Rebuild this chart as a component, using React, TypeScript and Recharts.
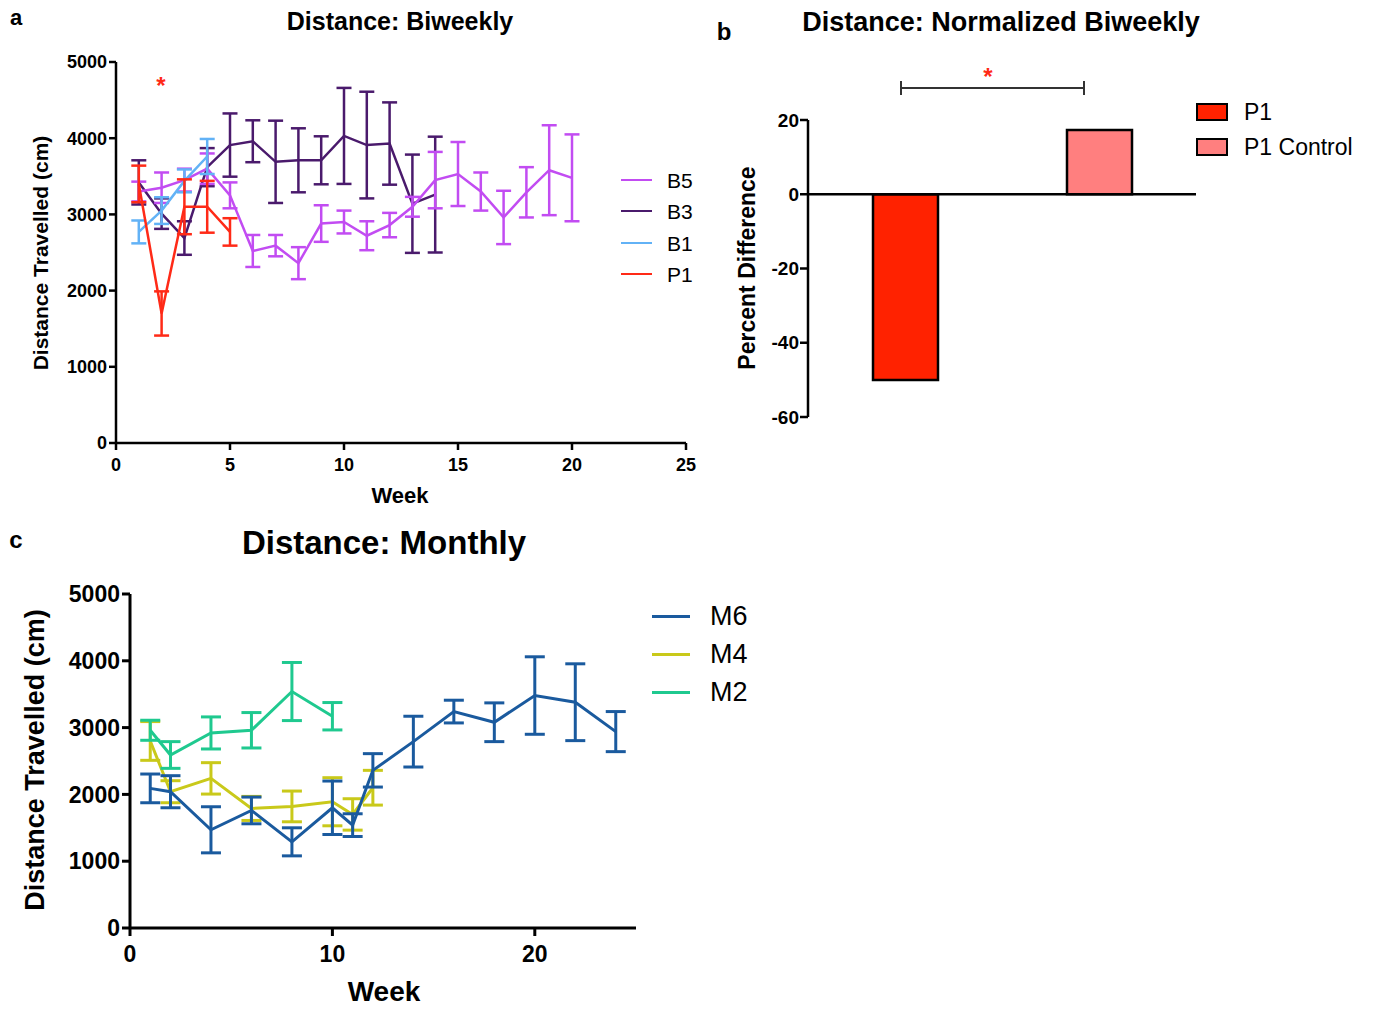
import React from "react";
import {
  LineChart,
  Line,
  XAxis,
  YAxis,
  ErrorBar,
  BarChart,
  Bar,
  Cell,
  ReferenceLine,
} from "recharts";

// panel a: biweekly distance (mean ± error)
const b5Weeks = [1, 2, 3, 4, 5, 6, 7, 8, 9, 10, 11, 12, 13, 14, 15, 16, 17, 18, 19, 20];
const b5Mean = [3300, 3350, 3450, 3600, 3250, 2520, 2590, 2360, 2880, 2900, 2720, 2860, 3100, 3450, 3530, 3300, 2960, 3290, 3580, 3480];
const b5Err = [130, 200, 150, 200, 170, 210, 140, 210, 240, 150, 190, 160, 130, 370, 420, 250, 350, 330, 590, 570];

const b3Weeks = [1, 2, 3, 4, 5, 6, 7, 8, 9, 10, 11, 12, 13, 14];
const b3Mean = [3420, 3010, 2690, 3620, 3910, 3960, 3690, 3710, 3710, 4030, 3910, 3930, 3140, 3260];
const b3Err = [290, 200, 220, 250, 415, 275, 540, 420, 315, 630, 700, 540, 645, 760];

const b1Weeks = [1, 2, 3, 4];
const b1Mean = [2770, 3050, 3440, 3760];
const b1Err = [150, 175, 150, 230];

const p1Weeks = [1, 2, 3, 4, 5];
const p1Mean = [3400, 1700, 3100, 3100, 2770];
const p1Err = [240, 290, 360, 340, 180];

// panel b: normalized difference
const normCats = ["P1", "P1 Control"];
const normVals = [-50, 17.3];
const normColors = ["#ff2200", "#ff7f7f"];

// panel c: monthly distance
const m6Weeks = [1, 2, 4, 6, 8, 10, 11, 12, 14, 16, 18, 20, 22, 24];
const m6Mean = [2090, 2040, 1470, 1760, 1290, 1800, 1540, 2360, 2790, 3240, 3080, 3480, 3380, 2940];
const m6Err = [215, 240, 345, 200, 210, 400, 170, 250, 380, 170, 290, 580, 575, 300];

const m4Weeks = [1, 2, 4, 6, 8, 10, 11, 12];
const m4Mean = [2800, 2040, 2240, 1790, 1820, 1890, 1700, 2100];
const m4Err = [290, 165, 235, 180, 230, 360, 235, 260];

const m2Weeks = [1, 2, 4, 6, 8, 10];
const m2Mean = [2960, 2590, 2920, 2960, 3540, 3170];
const m2Err = [150, 200, 240, 265, 435, 205];

const yTicks = [0, 1000, 2000, 3000, 4000, 5000];
const xTicksA = [0, 5, 10, 15, 20, 25];
const xTicksC = [0, 10, 20];
const normTicks = [-60, -40, -20, 0, 20];

const C = {
  b5: "#c24cf2",
  b3: "#4a1a6c",
  b1: "#62b2f6",
  p1: "#ff2a17",
  m6: "#1a5a9e",
  m4: "#c9c91a",
  m2: "#1fc98f",
};

const rows = (weeks: number[], mean: number[], err: number[]) =>
  weeks.map((w, i) => ({ week: w, v: mean[i], e: err[i] }));

const FONT = "'Liberation Sans', Arial, Helvetica, sans-serif";

function Txt({
  x,
  y,
  size,
  bold = true,
  rotate = 0,
  color = "#000",
  anchor = "center",
  children,
}: {
  x: number;
  y: number;
  size: number;
  bold?: boolean;
  rotate?: number;
  color?: string;
  anchor?: "center" | "left";
  children: React.ReactNode;
}) {
  const tx = anchor === "center" ? "-50%" : "0";
  return (
    <div
      style={{
        position: "absolute",
        left: x,
        top: y,
        fontSize: size,
        fontWeight: bold ? 700 : 400,
        color,
        whiteSpace: "nowrap",
        lineHeight: 1,
        transform: `translate(${tx}, -50%) rotate(${rotate}deg)`,
      }}
    >
      {children}
    </div>
  );
}

function LegendLine({ x, y, w, color, thick, label, size, gap }: any) {
  return (
    <>
      <div
        style={{
          position: "absolute",
          left: x,
          top: y - thick / 2,
          width: w,
          height: thick,
          background: color,
        }}
      />
      <Txt x={x + w + gap} y={y} size={size} bold={false} anchor="left">
        {label}
      </Txt>
    </>
  );
}

const axisStyle = { stroke: "#000", strokeWidth: 2.5 };

function PanelA() {
  const series = [
    { key: "b3", d: rows(b3Weeks, b3Mean, b3Err) },
    { key: "b5", d: rows(b5Weeks, b5Mean, b5Err) },
    { key: "b1", d: rows(b1Weeks, b1Mean, b1Err) },
    { key: "p1", d: rows(p1Weeks, p1Mean, p1Err) },
  ];
  return (
    <div style={{ position: "absolute", left: 0, top: 0 }}>
      <LineChart width={720} height={520} margin={{ top: 62, right: 34, bottom: 47, left: 56 }}>
        <XAxis
          dataKey="week"
          type="number"
          domain={[0, 25]}
          ticks={xTicksA}
          height={30}
          axisLine={axisStyle}
          tickLine={axisStyle}
          tickSize={7}
          tickMargin={8}
          tick={{ fontSize: 18, fontWeight: 700, fill: "#000" }}
        />
        <YAxis
          type="number"
          domain={[0, 5000]}
          ticks={yTicks}
          width={60}
          axisLine={axisStyle}
          tickLine={axisStyle}
          tickSize={7}
          tickMargin={2}
          tick={{ fontSize: 18, fontWeight: 700, fill: "#000" }}
        />
        {series.map((s) => (
          <Line
            key={s.key}
            data={s.d}
            dataKey="v"
            stroke={(C as any)[s.key]}
            strokeWidth={2.5}
            dot={false}
            isAnimationActive={false}
          >
            <ErrorBar dataKey="e" width={7.5} strokeWidth={2.5} stroke={(C as any)[s.key]} direction="y" />
          </Line>
        ))}
      </LineChart>
    </div>
  );
}

function PanelB() {
  const data = normCats.map((c, i) => ({ cat: c, v: normVals[i] }));
  return (
    <div style={{ position: "absolute", left: 720, top: 60 }}>
      <BarChart width={560} height={400} data={data} margin={{ top: 60, right: 84, bottom: 43, left: 48 }}>
        <XAxis dataKey="cat" hide />
        <YAxis
          type="number"
          domain={[-60, 20]}
          ticks={normTicks}
          width={40}
          axisLine={axisStyle}
          tickLine={axisStyle}
          tickSize={8}
          tickMargin={1}
          tick={{ fontSize: 19, fontWeight: 700, fill: "#000" }}
        />
        <ReferenceLine y={0} stroke="#000" strokeWidth={2.5} />
        <Bar dataKey="v" barSize={65} stroke="#000" strokeWidth={2.5} isAnimationActive={false}>
          {data.map((d, i) => (
            <Cell key={d.cat} fill={normColors[i]} />
          ))}
        </Bar>
      </BarChart>
    </div>
  );
}

function PanelC() {
  const series = [
    { key: "m4", d: rows(m4Weeks, m4Mean, m4Err) },
    { key: "m6", d: rows(m6Weeks, m6Mean, m6Err) },
    { key: "m2", d: rows(m2Weeks, m2Mean, m2Err) },
  ];
  return (
    <div style={{ position: "absolute", left: 0, top: 560 }}>
      <LineChart width={800} height={449} margin={{ top: 34, right: 164, bottom: 46, left: 50 }}>
        <XAxis
          dataKey="week"
          type="number"
          domain={[0, 25]}
          ticks={xTicksC}
          height={35}
          axisLine={{ stroke: "#000", strokeWidth: 3 }}
          tickLine={{ stroke: "#000", strokeWidth: 3 }}
          tickSize={8}
          tickMargin={10}
          tick={{ fontSize: 23, fontWeight: 700, fill: "#000" }}
        />
        <YAxis
          type="number"
          domain={[0, 5000]}
          ticks={yTicks}
          width={80}
          axisLine={{ stroke: "#000", strokeWidth: 3 }}
          tickLine={{ stroke: "#000", strokeWidth: 3 }}
          tickSize={8}
          tickMargin={2}
          tick={{ fontSize: 23, fontWeight: 700, fill: "#000" }}
        />
        {series.map((s) => (
          <Line
            key={s.key}
            data={s.d}
            dataKey="v"
            stroke={(C as any)[s.key]}
            strokeWidth={3}
            dot={false}
            isAnimationActive={false}
          >
            <ErrorBar dataKey="e" width={10} strokeWidth={3} stroke={(C as any)[s.key]} direction="y" />
          </Line>
        ))}
      </LineChart>
    </div>
  );
}

export default function App() {
  return (
    <div
      style={{
        position: "absolute",
        left: 0,
        top: 0,
        width: 1373,
        height: 1009,
        background: "#fff",
        fontFamily: FONT,
        overflow: "hidden",
      }}
    >
      <PanelA />
      <PanelB />
      <PanelC />

      {/* panel a text */}
      <Txt x={16} y={18} size={22}>a</Txt>
      <Txt x={400} y={21} size={25}>Distance: Biweekly</Txt>
      <Txt x={40} y={253} size={21} rotate={-90}>Distance Travelled (cm)</Txt>
      <Txt x={400} y={496} size={22}>Week</Txt>
      <Txt x={161} y={86} size={24} color={C.p1}>*</Txt>
      <LegendLine x={621} y={180} w={31} color={C.b5} thick={2.5} label="B5" size={21} gap={15} />
      <LegendLine x={621} y={211} w={31} color={C.b3} thick={2.5} label="B3" size={21} gap={15} />
      <LegendLine x={621} y={243} w={31} color={C.b1} thick={2.5} label="B1" size={21} gap={15} />
      <LegendLine x={621} y={274} w={31} color={C.p1} thick={2.5} label="P1" size={21} gap={15} />

      {/* panel b text */}
      <Txt x={724} y={32} size={24}>b</Txt>
      <Txt x={1001} y={22} size={27}>Distance: Normalized Biweekly</Txt>
      <Txt x={747} y={268} size={23} rotate={-90}>Percent Difference</Txt>
      <div style={{ position: "absolute", left: 901, top: 87, width: 183, height: 2, background: "#333" }} />
      <div style={{ position: "absolute", left: 900, top: 81, width: 2, height: 14, background: "#333" }} />
      <div style={{ position: "absolute", left: 1083, top: 81, width: 2, height: 14, background: "#333" }} />
      <Txt x={988} y={77} size={24} color={C.p1}>*</Txt>
      <div style={{ position: "absolute", left: 1196, top: 103, width: 28, height: 14, background: normColors[0], border: "2.5px solid #000" }} />
      <div style={{ position: "absolute", left: 1196, top: 138, width: 28, height: 14, background: normColors[1], border: "2.5px solid #000" }} />
      <Txt x={1244} y={112} size={23} bold={false} anchor="left">P1</Txt>
      <Txt x={1244} y={147} size={23} bold={false} anchor="left">P1 Control</Txt>

      {/* panel c text */}
      <Txt x={16} y={540} size={24}>c</Txt>
      <Txt x={384} y={542} size={33}>Distance: Monthly</Txt>
      <Txt x={35} y={760} size={27} rotate={-90}>Distance Travelled (cm)</Txt>
      <Txt x={384} y={992} size={28}>Week</Txt>
      <LegendLine x={652} y={616} w={38} color={C.m6} thick={3} label="M6" size={27} gap={20} />
      <LegendLine x={652} y={654} w={38} color={C.m4} thick={3} label="M4" size={27} gap={20} />
      <LegendLine x={652} y={692} w={38} color={C.m2} thick={3} label="M2" size={27} gap={20} />
    </div>
  );
}
